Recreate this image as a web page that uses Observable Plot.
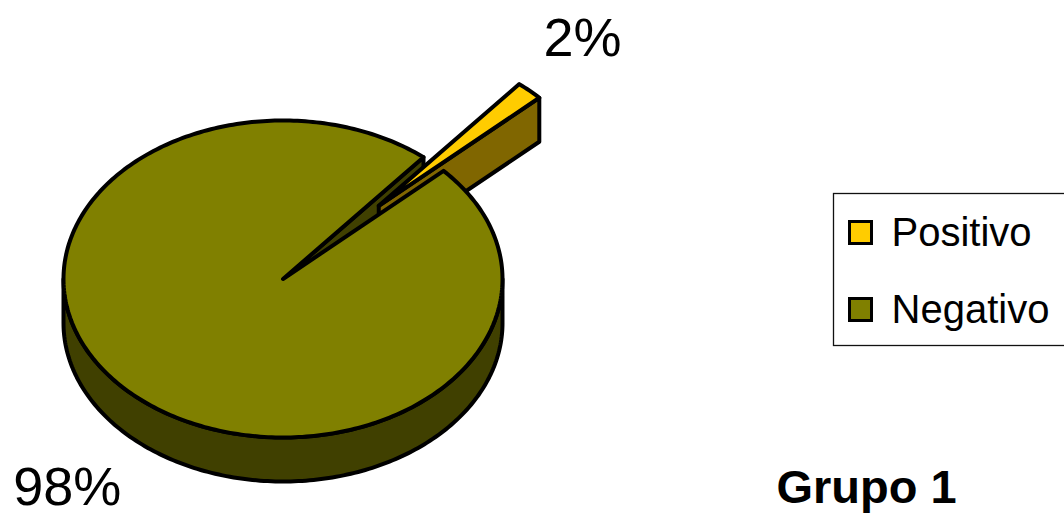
<!DOCTYPE html>
<html><head><meta charset="utf-8">
<script src="https://cdn.jsdelivr.net/npm/d3@7"></script>
<script src="https://cdn.jsdelivr.net/npm/@observablehq/plot@0.6"></script>
<style>body{margin:0;background:#fff}#chart svg{display:block}</style>
</head><body><div id="chart"></div>
<script>
// ---- data ----
const categories = ["Positivo", "Negativo"];
const values = [2, 98];
const labels = ["2%", "98%"];
const title = "Grupo 1";

// ---- styles / layout ----
const W = 1064, H = 515;
const cx = 282.5, cy = 278.5, rx = 219.5, ry = 158.5, depth = 44;
const startDeg = 39.8;
const explodeFrac = 0.635;
const topColors = {Positivo: "#FFCC00", Negativo: "#808000"};
const sideColors = {Positivo: "#806600", Negativo: "#404000"};
const font = "'Liberation Sans', Arial, sans-serif";

const rad = d => d * Math.PI / 180;
const a0 = rad(startDeg);
const arcs = d3.pie().sort(null).startAngle(a0).endAngle(a0 + 2 * Math.PI)(values);

function pt(a, r, o, dz) { return {x: cx + o.x + rx * r * Math.sin(a), y: cy + o.y - ry * r * Math.cos(a) + dz}; }
function arcPts(s, e, o, dz) {
  const n = Math.max(2, Math.ceil(Math.abs(e - s) / rad(1)));
  return d3.range(n + 1).map(i => pt(s + (e - s) * i / n, 1, o, dz));
}

const slices = arcs.map((d, i) => {
  const mid = (d.startAngle + d.endAngle) / 2;
  const ex = categories[i] === "Positivo" ? explodeFrac : 0;
  const o = {x: rx * ex * Math.sin(mid), y: -ry * ex * Math.cos(mid)};
  return {name: categories[i], label: labels[i], s: d.startAngle, e: d.endAngle, mid, o, exploded: ex > 0};
});

function sides(sl) {
  const polys = [];
  for (let k = -1; k <= 2; k++) {
    const fs = Math.PI / 2 + 2 * Math.PI * k, fe = 3 * Math.PI / 2 + 2 * Math.PI * k;
    const s = Math.max(sl.s, fs), e = Math.min(sl.e, fe);
    if (e > s) polys.push([...arcPts(s, e, sl.o, 0), ...arcPts(e, s, sl.o, depth)]);
  }
  const C = dz => ({x: cx + sl.o.x, y: cy + sl.o.y + dz});
  const cut = a => [C(0), pt(a, 1, sl.o, 0), pt(a, 1, sl.o, depth), C(depth)];
  if (Math.sin(sl.s) < 0) polys.push(cut(sl.s));
  if (Math.sin(sl.e) > 0) polys.push(cut(sl.e));
  return polys;
}
function topFace(sl) { return [{x: cx + sl.o.x, y: cy + sl.o.y}, ...arcPts(sl.s, sl.e, sl.o, 0)]; }

const polyMark = (pts, fill) => Plot.line(pts, {x: "x", y: "y", fill, stroke: "black", strokeWidth: 4, strokeLinejoin: "round", curve: "linear-closed"});

const marks = [];
const normal = slices.filter(s => !s.exploded), exploded = slices.filter(s => s.exploded);
for (const sl of normal) for (const p of sides(sl)) marks.push(polyMark(p, sideColors[sl.name]));
for (const sl of exploded) for (const p of sides(sl)) marks.push(polyMark(p, sideColors[sl.name]));
for (const sl of exploded) marks.push(polyMark(topFace(sl), topColors[sl.name]));
for (const sl of normal) marks.push(polyMark(topFace(sl), topColors[sl.name]));

// percentage labels, anchored at slice mid-angle on the (exploded) rim
const labelOffsets = {Positivo: {dx: 14, dy: -35}, Negativo: {dx: -119, dy: 111}};
for (const sl of slices) {
  const p = pt(sl.mid, 1, sl.o, 0);
  marks.push(Plot.text([sl.label], {x: () => p.x, y: () => p.y, text: d => d, textAnchor: "start", lineAnchor: "bottom",
    dx: labelOffsets[sl.name].dx, dy: labelOffsets[sl.name].dy, fontSize: 54, fill: "black", fontFamily: font}));
}

// legend
marks.push(Plot.rect([0], {x1: () => 833.5, x2: () => 1080, y1: () => 193.5, y2: () => 345.5, fill: "white", stroke: "#111", strokeWidth: 1.3}));
const legendRows = categories.map((c, i) => ({c, y: [232.5, 309.5][i]}));
marks.push(Plot.rect(legendRows, {x1: () => 849.5, x2: () => 871.5, y1: d => d.y - 11, y2: d => d.y + 11, fill: d => topColors[d.c], stroke: "black", strokeWidth: 3}));
marks.push(Plot.text(legendRows, {x: () => 891, y: d => d.y + 12.5, text: "c", textAnchor: "start", lineAnchor: "bottom", fontSize: 40, fill: "black", fontFamily: font}));

// group title
marks.push(Plot.text([title], {x: () => 776, y: () => 502, text: d => d, textAnchor: "start", lineAnchor: "bottom", fontSize: 47, fontWeight: "bold", fill: "black", fontFamily: font}));

const chart = Plot.plot({
  width: W, height: H, margin: 0,
  x: {domain: [0, W], range: [0, W], axis: null},
  y: {domain: [0, H], range: [0, H], axis: null},
  style: {background: "white", fontFamily: font},
  marks
});
document.getElementById("chart").append(chart);
</script>
</body></html>
